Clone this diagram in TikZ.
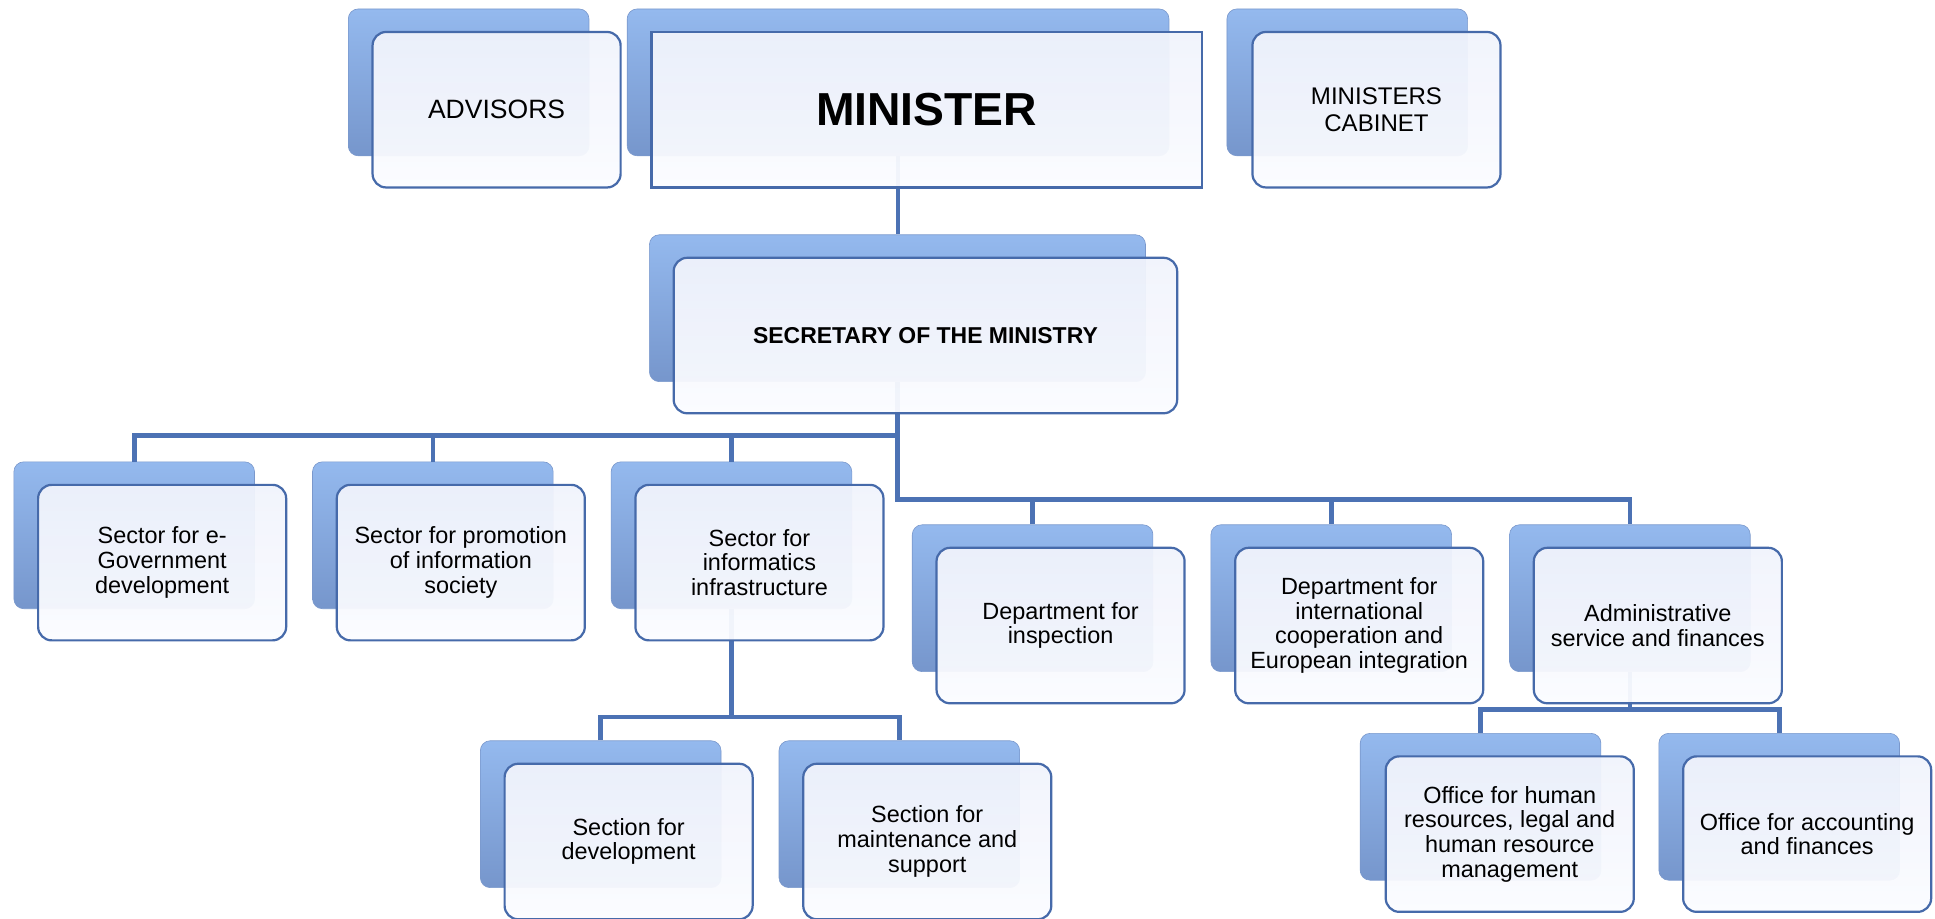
\documentclass[tikz,border=0pt]{standalone}
\usepackage{fontspec}
\setmainfont{Liberation Sans}
\definecolor{conn}{RGB}{76,114,180}
\definecolor{backtop}{RGB}{148,185,238}
\definecolor{backbot}{RGB}{118,150,204}
\definecolor{backline}{RGB}{122,152,204}
\definecolor{frontline}{RGB}{70,106,170}
\definecolor{fronttop}{RGB}{240,243,252}
\definecolor{frontbot}{RGB}{251,252,255}
\tikzset{
  backbox/.style={rounded corners=8pt, top color=backtop, bottom color=backbot,
    draw=backline, line width=0.5pt, anchor=north west, minimum height=119pt,
    inner sep=0pt},
  frontbox/.style={rounded corners=11pt, top color=fronttop, bottom color=frontbot,
    fill opacity=0.95, text opacity=1, draw=frontline, line width=1.8pt,
    anchor=north west, minimum height=126pt, minimum width=201pt, align=center,
    inner sep=0pt, font=\fontsize{19}{20}\selectfont},
  link/.style={draw=conn, line width=3.8pt},
}
\begin{document}
\begin{tikzpicture}[x=1pt,y=-1pt]
\useasboundingbox (0,0) rectangle (1568,744);
% back boxes
\node[backbox, minimum width=195pt] (adv-b) at (282,7) {};
\node[backbox, minimum width=439pt] (min-b) at (508,7) {};
\node[backbox, minimum width=195pt] (cab-b) at (994,7) {};
\node[backbox, minimum width=402pt] (sec-b) at (526,190) {};
\node[backbox, minimum width=195pt] (s1-b) at (11,374) {};
\node[backbox, minimum width=195pt] (s2-b) at (253,374) {};
\node[backbox, minimum width=195pt] (s3-b) at (495,374) {};
\node[backbox, minimum width=195pt] (d1-b) at (739,425) {};
\node[backbox, minimum width=195pt] (d2-b) at (981,425) {};
\node[backbox, minimum width=195pt] (d3-b) at (1223,425) {};
\node[backbox, minimum width=195pt] (sd1-b) at (389,600) {};
\node[backbox, minimum width=195pt] (sd2-b) at (631,600) {};
\node[backbox, minimum width=195pt] (o1-b) at (1102,594) {};
\node[backbox, minimum width=195pt] (o2-b) at (1344,594) {};
% bus levels
\coordinate (busA) at (0,353);
\coordinate (busB) at (0,405);
\coordinate (busC) at (0,581);
\coordinate (busD) at (0,575);
% connectors
\draw[link] (min-b.south) -- (min-b.south |- sec-b.north);
\draw[link] (s1-b.north) |- (sec-b.south |- busA);
\draw[link] (s2-b.north) -- (s2-b.north |- busA);
\draw[link] (s3-b.north) -- (s3-b.north |- busA);
\draw[link] (sec-b.south) -- (sec-b.south |- busB) -| (d3-b.north);
\draw[link] (d1-b.north) -- (d1-b.north |- busB);
\draw[link] (d2-b.north) -- (d2-b.north |- busB);
\draw[link] (s3-b.south) -- (s3-b.south |- busC) -| (sd2-b.north);
\draw[link] (sd1-b.north) |- (s3-b.south |- busC);
\draw[link] (d3-b.south) -- (d3-b.south |- busD) -| (o2-b.north);
\draw[link] (o1-b.north) |- (d3-b.south |- busD);
% front boxes
\node[frontbox, font=\fontsize{21.5}{24}\selectfont] (adv) at (301,25) {ADVISORS};
\node[frontbox, minimum width=446pt, rounded corners=0pt,
      font=\fontsize{37.5}{40}\selectfont\bfseries] (min) at (527,25) {MINISTER};
\node[frontbox, font=\fontsize{19.5}{21.5}\selectfont] (cab) at (1014,25) {MINISTERS\\CABINET};
\node[frontbox, minimum width=408pt, font=\fontsize{18.6}{20}\selectfont\bfseries] (sec) at (545,208) {SECRETARY OF THE MINISTRY};
\node[frontbox] (s1) at (30,392) {Sector for e-\\Government\\development};
\node[frontbox] (s2) at (272,392) {Sector for promotion\\of information\\society};
\node[frontbox] (s3) at (514,392) {Sector for\\informatics\\infrastructure};
\node[frontbox] (d1) at (758,443) {Department for\\inspection};
\node[frontbox] (d2) at (1000,443) {Department for\\international\\cooperation and\\European integration};
\node[frontbox] (d3) at (1242,443) {Administrative\\service and finances};
\node[frontbox] (sd1) at (408,618) {Section for\\development};
\node[frontbox] (sd2) at (650,618) {Section for\\maintenance and\\support};
\node[frontbox] (o1) at (1122,612) {Office for human\\resources, legal and\\human resource\\management};
\node[frontbox] (o2) at (1363,612) {Office for accounting\\and finances};
\end{tikzpicture}
\end{document}
